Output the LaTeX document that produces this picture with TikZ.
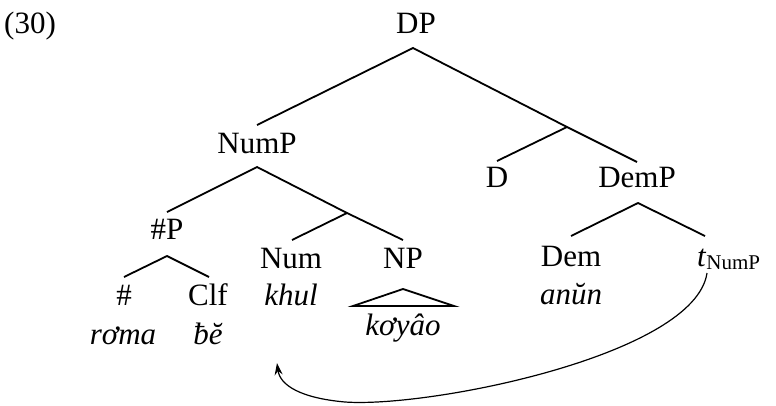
\documentclass[tikz,border=0pt]{standalone}
\usepackage{fontspec}
\setmainfont{Liberation Serif}
\usetikzlibrary{arrows.meta}
\begin{document}
\begin{tikzpicture}[x=1pt,y=-1pt,
  lab/.style={anchor=base, inner sep=0pt, font=\fontsize{31}{36}\selectfont},
  word/.style={lab, font=\fontsize{31}{36}\selectfont\itshape},
  branch/.style={line width=1.8pt},
  move/.style={line width=1.2pt, -{Stealth[length=12pt,width=8pt,inset=4pt]}}]
\useasboundingbox (0,0) rectangle (776,405);
% labels
\node[lab, anchor=base west] (ex) at (4,33) {(30)};
\node[lab] (DP) at (416,33) {DP};
\node[lab] (NumP) at (257,153) {NumP};
\node[lab] (D) at (497,187) {D};
\node[lab] (DemP) at (637,187) {DemP};
\node[lab] (HP) at (167,239) {\#P};
\node[lab] (Num) at (291,268) {Num};
\node[lab] (NP) at (403,268) {NP};
\node[lab] (Dem) at (571,266) {Dem};
\node[lab, anchor=base west] (t) at (697,266) {\textit{t}\raisebox{-0.25ex}{\fontsize{21}{24}\selectfont NumP}};
\node[lab] (hash) at (124,305) {\#};
\node[lab] (Clf) at (208,305) {Clf};
\node[word] (khul) at (291,305) {khul};
\node[word] (anun) at (571,304) {anŭn};
\node[word] (roma) at (123,344) {rơma};
\node[word] (be) at (208,344) {ƀĕ};
\node[word] (koyao) at (403,335) {kơyâo};
% branch points
\coordinate (DPt) at (413,48);
\coordinate (NumPb) at (257,125);
\coordinate (Dbar) at (567,127);
\coordinate (Dt) at (497,161);
\coordinate (DemPb) at (637,162);
\coordinate (NumPt) at (257,167);
\coordinate (HPb) at (167,212);
\coordinate (Numbar) at (347,213);
\coordinate (Numb) at (292,240);
\coordinate (NPb) at (403,240);
\coordinate (HPt) at (167,256);
\coordinate (hashb) at (124,277);
\coordinate (Clfb) at (209,277);
\coordinate (DemPt) at (638,203);
\coordinate (Demb) at (571,236);
\coordinate (tb) at (705,236);
\coordinate (tri) at (403,289);
\coordinate (triL) at (353,306);
\coordinate (triR) at (454,306);
\coordinate (mvs) at (707,273);
\coordinate (mvm) at (345,402);
\coordinate (mve) at (277,363);
% branches
\draw[branch] (NumPb) -- (DPt) -- (Dbar) -- (DemPb);
\draw[branch] (Dbar) -- (Dt);
\draw[branch] (HPb) -- (NumPt) -- (Numbar) -- (NPb);
\draw[branch] (Numbar) -- (Numb);
\draw[branch] (hashb) -- (HPt) -- (Clfb);
\draw[branch] (Demb) -- (DemPt) -- (tb);
\draw[branch, line join=miter] (tri) -- (triL) -- (triR) -- cycle;
% movement arrow
\draw[move] (mvs) .. controls (695,355) and (430,408) .. (mvm) .. controls (300,398) and (280,385) .. (mve);
\end{tikzpicture}
\end{document}
